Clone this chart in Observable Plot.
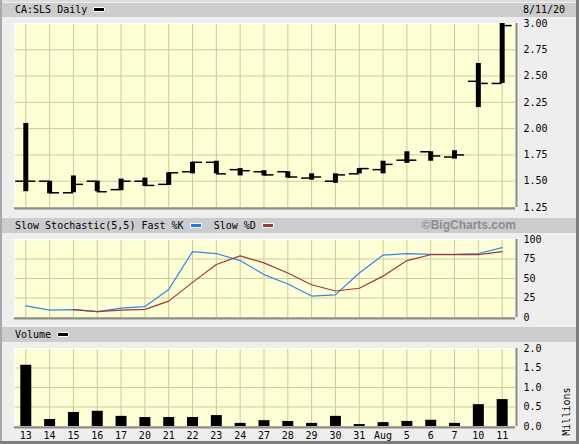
<!DOCTYPE html>
<html><head><meta charset="utf-8">
<script src="https://cdn.jsdelivr.net/npm/d3@7"></script>
<script src="https://cdn.jsdelivr.net/npm/@observablehq/plot@0.6"></script>
<style>
body{margin:0;background:#eeeeee;}
#c{position:relative;width:579px;height:444px;background:#eeeeee;overflow:hidden;font-family:"DejaVu Sans Mono",monospace;font-size:10px;}
.hdr{position:absolute;left:2px;width:574px;background:#cccccc;}
.t{position:absolute;top:0;white-space:pre;color:#000;}
.sw{display:inline-block;width:10px;height:3px;border:1px solid #fff;border-radius:1px;vertical-align:middle;position:relative;top:-1px;}
#c svg{position:absolute;left:0;}
.b{position:absolute;}
</style></head>
<body>
<div id="c">
  <div class="b" style="left:0;top:0;width:579px;height:2px;background:#dcdcdc"></div>
  <div class="b" style="left:0;top:0;width:2px;height:444px;background:#a8a8a8"></div>
  <div class="b" style="left:576px;top:0;width:3px;height:444px;background:#7c7c7c"></div>
  <div class="b" style="left:0;top:441px;width:579px;height:3px;background:#7c7c7c"></div>
  <div class="hdr" style="top:3px;height:14px;line-height:14px">
    <span class="t" style="left:13px">CA:SLS Daily <span class="sw" style="background:#000"></span></span>
    <span class="t" style="left:521px">8/11/20</span>
  </div>
  <div class="hdr" style="top:218px;height:15px;line-height:15px">
    <span class="t" style="left:13px">Slow Stochastic(5,5) Fast %K <span class="sw" style="background:#0a80ff"></span>  Slow %D <span class="sw" style="background:#a33a3a"></span></span>
    <span class="t" style="right:60px;font-family:'Liberation Sans',Arial,sans-serif;font-weight:bold;font-size:12px;color:#8c8c8c">©BigCharts.com</span>
  </div>
  <div class="hdr" style="top:327px;height:15px;line-height:15px">
    <span class="t" style="left:13px">Volume <span class="sw" style="background:#000"></span></span>
  </div>
</div>
<script>
const dates = ["13","14","15","16","17","20","21","22","23","24","27","28","29","30","31","Aug","5","6","7","10","11"];
const openP  = [1.50,1.50,1.39,1.50,1.42,1.50,1.47,1.59,1.68,1.61,1.59,1.59,1.53,1.50,1.57,1.61,1.70,1.78,1.73,2.45,2.43];
const highP  = [2.05,1.50,1.55,1.50,1.52,1.53,1.58,1.68,1.69,1.62,1.60,1.59,1.57,1.57,1.62,1.69,1.78,1.78,1.79,2.62,3.00];
const lowP   = [1.40,1.38,1.39,1.40,1.41,1.45,1.46,1.57,1.57,1.55,1.55,1.53,1.51,1.48,1.57,1.57,1.67,1.69,1.71,2.20,2.43];
const closeP = [1.50,1.39,1.47,1.40,1.50,1.46,1.58,1.68,1.57,1.60,1.56,1.54,1.54,1.56,1.62,1.66,1.70,1.74,1.75,2.43,2.98];
const fastK  = [15,9.5,10,7.5,12,14,36,84.5,82,73,55,43,27.5,29,57,80,82,81,81,82,89.5];
const slowD  = [null,null,10,7.5,9.5,10.5,21,45,68,79,70,57,42,34,37.5,53,73,80.5,80.5,80.5,84.5];
const volume = [1.57,0.18,0.36,0.39,0.26,0.23,0.23,0.23,0.28,0.08,0.15,0.13,0.08,0.26,0.05,0.10,0.13,0.16,0.08,0.56,0.69];
const priceTicks = [1.25,1.50,1.75,2.00,2.25,2.50,2.75,3.00];
const stochTicks = [0,25,50,75,100];
const volTicks = [0,0.5,1.0,1.5,2.0];

const idx = d3.range(dates.length);
const price = idx.map(i => ({i, o: openP[i], h: highP[i], l: lowP[i], c: closeP[i]}));
const stoch = idx.map(i => ({i, k: fastK[i], d: slowD[i]}));
const vol = idx.map(i => ({i, v: volume[i]}));

const xDom = [-0.474, 20.56];
const grid = "#cbcb98", shadow = "#8c8c8c";
const common = {
  width: 579, marginLeft: 14, marginRight: 64,
  style: {background: "transparent", fontFamily: "DejaVu Sans Mono", fontSize: "10px", color: "#000", overflow: "visible"}
};
function dither(id) {
  return () => {
    const defs = d3.create("svg:defs");
    const p = defs.append("pattern").attr("id", id).attr("patternUnits", "userSpaceOnUse")
      .attr("width", 2).attr("height", 2);
    p.append("rect").attr("width", 2).attr("height", 2).attr("fill", "#ffffff");
    p.append("rect").attr("x", 0).attr("y", 0).attr("width", 1).attr("height", 1).attr("fill", "#ffffac");
    p.append("rect").attr("x", 1).attr("y", 1).attr("width", 1).attr("height", 1).attr("fill", "#ffffac");
    return defs.node();
  };
}
const frameMarks = (id) => [
  dither(id),
  Plot.frame({fill: `url(#${id})`, stroke: "none"}),
  Plot.ruleX(idx, {stroke: grid}),
];
const edges = (yDom) => [
  Plot.ruleY([yDom[1]], {stroke: "#ffffff"}),
  Plot.ruleX([xDom[0]], {stroke: "#ffffff"}),
  Plot.ruleY([yDom[0]], {stroke: shadow, strokeWidth: 2, dy: 1}),
  Plot.ruleX([xDom[1]], {stroke: shadow, strokeWidth: 2, dx: 1})
];

const pDom = [1.25, 3.0];
const p1 = Plot.plot({
  ...common, height: 201, marginTop: 6, marginBottom: 11,
  x: {domain: xDom, axis: null},
  y: {domain: pDom, axis: "right", ticks: priceTicks, tickFormat: d3.format(".2f"), tickSize: 0, tickPadding: 8, label: null},
  marks: [
    ...frameMarks("dith1"),
    Plot.ruleY(priceTicks, {stroke: grid}),
    ...edges(pDom),
    Plot.ruleX(price, {x: "i", y1: "l", y2: "h", stroke: "#000", strokeWidth: 5}),
    Plot.ruleY(price, {x1: d => d.i - 0.42, x2: d => d.i, y: "o", stroke: "#000", strokeWidth: 1.5}),
    Plot.ruleY(price, {x1: d => d.i, x2: d => d.i + 0.42, y: "c", stroke: "#000", strokeWidth: 1.5})
  ]
});
p1.style.top = "17px";

const sDom = [0, 100];
const p2 = Plot.plot({
  ...common, height: 94, marginTop: 6, marginBottom: 10,
  x: {domain: xDom, axis: null},
  y: {domain: sDom, axis: "right", ticks: stochTicks, tickFormat: d3.format("d"), tickSize: 0, tickPadding: 8, label: null},
  marks: [
    ...frameMarks("dith2"),
    Plot.ruleY(stochTicks, {stroke: grid}),
    ...edges(sDom),
    Plot.line(stoch, {x: "i", y: "k", stroke: "#3088f0", strokeWidth: 1.2}),
    Plot.line(stoch.filter(d => d.d != null), {x: "i", y: "d", stroke: "#a0393a", strokeWidth: 1.2})
  ]
});
p2.style.top = "233px";

const vDom = [0, 2];
const p3 = Plot.plot({
  ...common, height: 102, marginTop: 6, marginBottom: 18,
  x: {domain: xDom, ticks: idx, tickFormat: i => dates[i], tickSize: 0, tickPadding: 5, label: null},
  y: {domain: vDom, axis: "right", ticks: volTicks, tickFormat: d3.format(".1f"), tickSize: 0, tickPadding: 8, label: null},
  marks: [
    ...frameMarks("dith3"),
    Plot.ruleY(volTicks, {stroke: grid}),
    ...edges(vDom),
    Plot.ruleX(vol, {x: "i", y1: 0, y2: "v", stroke: "#000", strokeWidth: 11}),
    Plot.text(["Millions"], {frameAnchor: "right", dx: 51, rotate: -90, fontSize: 10, fill: "#000"})
  ]
});
p3.style.top = "342px";

const c = document.getElementById("c");
c.appendChild(p1); c.appendChild(p2); c.appendChild(p3);
</script>
</body></html>
